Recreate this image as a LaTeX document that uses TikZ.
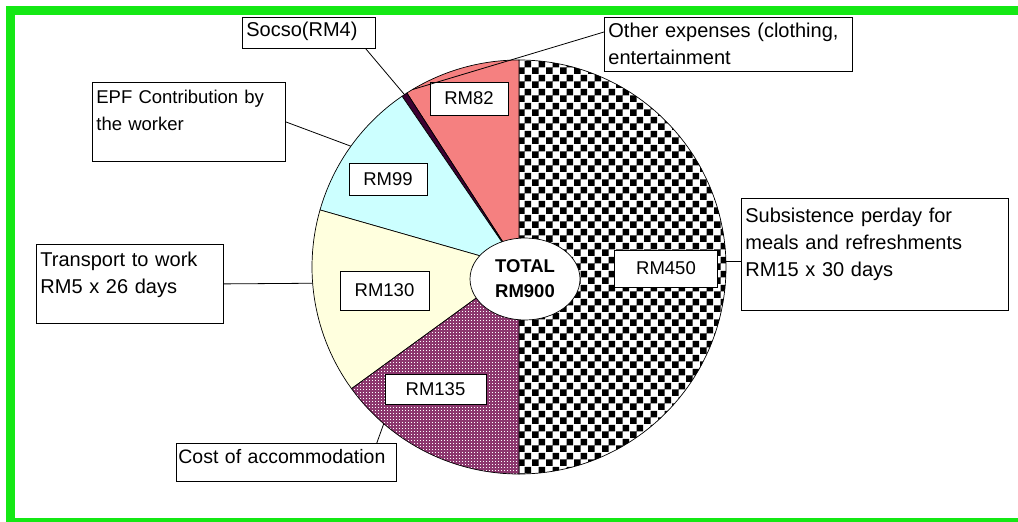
\documentclass[tikz,border=0pt]{standalone}
\usepackage{fontspec}
\setmainfont{Liberation Sans}
\usetikzlibrary{patterns}
\usetikzlibrary{shapes.geometric}

\definecolor{framegreen}{RGB}{20,232,20}
\definecolor{otherred}{RGB}{245,128,128}
\definecolor{socsodark}{RGB}{60,0,50}
\definecolor{epfcyan}{RGB}{204,255,255}
\definecolor{transcream}{RGB}{255,255,222}
\definecolor{houseplum}{RGB}{140,55,110}

\pgfdeclarepatternformonly{bigchecker}{\pgfpointorigin}{\pgfqpoint{14pt}{14pt}}{\pgfqpoint{14pt}{14pt}}{%
  \pgfpathrectangle{\pgfpointorigin}{\pgfqpoint{7pt}{7pt}}%
  \pgfpathrectangle{\pgfqpoint{7pt}{7pt}}{\pgfqpoint{7pt}{7pt}}%
  \pgfusepath{fill}}
\pgfdeclarepatternformonly{whitedots}{\pgfpointorigin}{\pgfqpoint{3pt}{3pt}}{\pgfqpoint{3pt}{3pt}}{%
  \pgfpathrectangle{\pgfpointorigin}{\pgfqpoint{1.2pt}{1.2pt}}%
  \pgfusepath{fill}}

\begin{document}
\begin{tikzpicture}[x=1pt,y=-1pt,
	slice/.style={draw=black,line width=0.7pt},
	checkpart/.style={pattern=bigchecker,pattern color=black},
	redpart/.style={fill=otherred},
	socsopart/.style={fill=socsodark},
	epfpart/.style={fill=epfcyan},
	transpart/.style={fill=transcream},
	housepart/.style={preaction={fill=houseplum},pattern=whitedots,pattern color=white},
	valbox/.style={draw,fill=white,line width=0.8pt,inner sep=0pt,font=\fontsize{18.5}{22}\selectfont},
	callout/.style={draw,fill=white,line width=0.8pt,anchor=north west,align=left,
		inner xsep=4pt,inner ysep=0pt,font=\fontsize{20}{27}\selectfont},
	leader/.style={draw=black,line width=0.8pt}]
	\useasboundingbox (0,0) rectangle (1018,522);
	\fill[white] (0,0) rectangle (1018,522);
	\clip (0,0) rectangle (1018,522);
	\draw[framegreen,line width=9pt] (10.5,10.5) rectangle (1030,522.5);

	% the pie, 360 degrees = RM900
	\begin{scope}[shift={(519,267)},y=1pt]
		\foreach \from/\to/\kind in {-90/90/checkpart, 90/122.8/redpart, 122.8/124.4/socsopart,
			124.4/164/epfpart, 164/216/transpart, 216/270/housepart}
		\filldraw[slice,\kind] (0,0) -- (\from:207) arc (\from:\to:207) -- cycle;

		\coordinate (p-other) at (121:207);
		\coordinate (p-socso) at (123.6:207);
		\coordinate (p-epf) at (144.3:207);
		\coordinate (p-trans) at (184.5:207);
		\coordinate (p-house) at (229.2:207);
		\coordinate (p-sub) at (1.5:207);
	\end{scope}

	\node[valbox,minimum width=78pt,minimum height=33pt] (v82) at (469,98.5) {RM82};
	\node[valbox,minimum width=78pt,minimum height=32pt] (v99) at (388,179) {RM99};
	\node[valbox,minimum width=89pt,minimum height=39pt] (v130) at (384.5,290.5) {RM130};
	\node[valbox,minimum width=101pt,minimum height=30pt] (v135) at (435.5,389) {RM135};
	\node[valbox,minimum width=103pt,minimum height=37pt] (v450) at (666,268.5) {RM450};

	\node[ellipse,draw,fill=white,line width=0.7pt,minimum width=110pt,minimum height=82pt,
		inner sep=0pt,align=center,font=\fontsize{18.5}{25}\selectfont\bfseries] (total) at (525,279) {TOTAL\\RM900};

	% text boxes round the pie
	\node[callout,text width=125pt,text height=19pt,text depth=12pt] (socso) at (242,17) {Socso(RM4)};
	\node[callout,text width=185pt,text height=21pt,text depth=58pt,font=\fontsize{18.5}{27}\selectfont] (epf) at (92,82)
		{EPF Contribution by\\the worker};
	\node[callout,text width=179pt,text height=22pt,text depth=57pt] (trans) at (36,244)
		{Transport to work\\RM5 x 26 days};
	\node[callout,inner xsep=2pt,text width=216pt,text height=20pt,text depth=18pt,
		font=\fontsize{19.5}{27}\selectfont] (house) at (176,443) {Cost of accommodation};
	\node[callout,text width=240pt,text height=20pt,text depth=34pt] (other) at (604,17)
		{Other expenses (clothing,\\entertainment};
	\node[callout,text width=259pt,text height=24pt,text depth=88pt] (sub) at (741,198)
		{Subsistence perday for\\meals and refreshments\\RM15 x 30 days};

	\draw[leader] ([xshift=-10pt]socso.south east) -- (p-socso);
	\draw[leader] ([yshift=-15pt]other.north west) -- (p-other);
	\draw[leader] (epf.east) -- (p-epf);
	\draw[leader] (trans.east) -- (p-trans);
	\draw[leader] ([xshift=-20pt]house.north east) -- (p-house);
	\draw[leader] (p-sub) -- (p-sub -| sub.west);
\end{tikzpicture}
\end{document}
